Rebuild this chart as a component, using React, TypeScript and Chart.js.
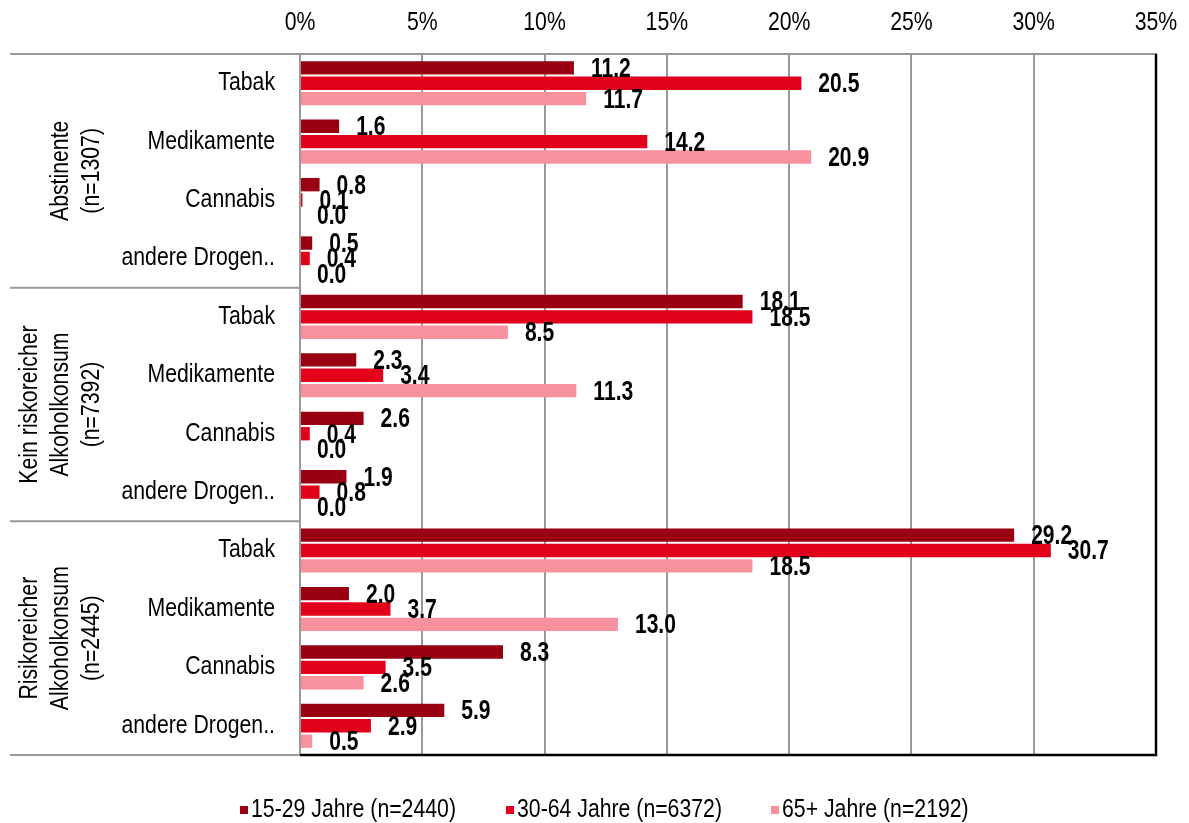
import React, { useEffect, useRef } from 'react';
import { Chart, registerables } from 'chart.js';

Chart.register(...registerables);

const groupLabels: string[][] = [
  ['Abstinente', '(n=1307)'],
  ['Kein riskoreicher', 'Alkoholkonsum', '(n=7392)'],
  ['Risikoreicher', 'Alkoholkonsum', '(n=2445)'],
];
const substances = ['Tabak', 'Medikamente', 'Cannabis', 'andere Drogen..'];
const categories = groupLabels.flatMap(() => substances);

const seriesNames = ['15-29 Jahre (n=2440)', '30-64 Jahre (n=6372)', '65+ Jahre (n=2192)'];
const age15to29 = [11.2, 1.6, 0.8, 0.5, 18.1, 2.3, 2.6, 1.9, 29.2, 2.0, 8.3, 5.9];
const age30to64 = [20.5, 14.2, 0.1, 0.4, 18.5, 3.4, 0.4, 0.8, 30.7, 3.7, 3.5, 2.9];
const age65plus = [11.7, 20.9, 0.0, 0.0, 8.5, 11.3, 0.0, 0.0, 18.5, 13.0, 2.6, 0.5];
const xTickValues = [0, 5, 10, 15, 20, 25, 30, 35];
const xTickLabels = ['0%', '5%', '10%', '15%', '20%', '25%', '30%', '35%'];
const seriesColors = ['#990011', '#E2001A', '#F7919E'];

const FONT = '"Liberation Sans", Arial, sans-serif';
const FS = 25;
const SX = 0.85;

function drawText(ctx: CanvasRenderingContext2D, text: string, x: number, y: number, align: 'left' | 'right' | 'center', bold = false, size = FS, sx = SX) {
  ctx.save();
  ctx.font = `${bold ? 'bold ' : ''}${size}px ${FONT}`;
  ctx.textAlign = align;
  ctx.textBaseline = 'middle';
  ctx.fillStyle = '#000';
  ctx.translate(x, y);
  ctx.scale(sx, 1);
  ctx.fillText(text, 0, 0);
  ctx.restore();
}

const decorPlugin = {
  id: 'decor',
  afterDraw(chart: any) {
    const ctx = chart.ctx;
    const { left, right, top, bottom } = chart.chartArea;
    const y = chart.scales.y;
    const x = chart.scales.x;
    ctx.save();
    // separators
    ctx.strokeStyle = '#999';
    ctx.lineWidth = 2;
    const seps = [top];
    for (let g = 1; g < groupLabels.length; g++) {
      const a = y.getPixelForValue(g * 4 - 1);
      const b = y.getPixelForValue(g * 4);
      seps.push((a + b) / 2);
    }
    seps.push(bottom);
    seps.forEach((sy: number) => {
      ctx.beginPath();
      ctx.moveTo(10, sy);
      ctx.lineTo(left, sy);
      ctx.stroke();
    });
    // bottom and right black border
    ctx.strokeStyle = '#000';
    ctx.lineWidth = 2.5;
    ctx.beginPath();
    ctx.moveTo(left, bottom);
    ctx.lineTo(right, bottom);
    ctx.lineTo(right, top);
    ctx.stroke();
    // x tick labels
    xTickValues.forEach((v, i) => {
      drawText(ctx, xTickLabels[i], x.getPixelForValue(v), 23.5, 'center');
    });
    // y category labels
    categories.forEach((c, i) => {
      drawText(ctx, c, left - 25, y.getPixelForValue(i), 'right');
    });
    // group labels (rotated)
    groupLabels.forEach((lines, g) => {
      const cy = (seps[g] + seps[g + 1]) / 2;
      const n = lines.length;
      lines.forEach((ln, i) => {
        const cx = 92 - (n - 1 - i) * 31;
        ctx.save();
        ctx.translate(cx, cy);
        ctx.rotate(-Math.PI / 2);
        drawText(ctx, ln, 0, 0, 'center');
        ctx.restore();
      });
    });
    // data labels
    chart.data.datasets.forEach((ds: any, di: number) => {
      const meta = chart.getDatasetMeta(di);
      meta.data.forEach((el: any, i: number) => {
        const v = ds.data[i];
        drawText(ctx, v.toFixed(1), el.x + 17, el.y + 1.5, 'left', true, 27, 0.78);
      });
    });
    // legend
    const legendX = [240, 506, 771];
    const ly = 810;
    chart.data.datasets.forEach((ds: any, di: number) => {
      ctx.fillStyle = ds.backgroundColor;
      ctx.fillRect(legendX[di], ly - 4, 8, 8);
      drawText(ctx, ds.label, legendX[di] + 11, ly, 'left');
    });
    ctx.restore();
  },
};

export default function App() {
  const ref = useRef<HTMLCanvasElement>(null);
  useEffect(() => {
    if (!ref.current) return;
    const seriesData = [age15to29, age30to64, age65plus];
    const chart = new Chart(ref.current, {
      type: 'bar',
      data: {
        labels: categories,
        datasets: seriesNames.map((name, i) => ({
          label: name,
          data: seriesData[i],
          backgroundColor: seriesColors[i],
          barPercentage: 0.87,
          categoryPercentage: 0.79,
        })),
      },
      options: {
        indexAxis: 'y',
        responsive: false,
        animation: false,
        layout: { padding: { left: 0, right: 33, top: 0, bottom: 68 } },
        scales: {
          x: {
            position: 'top',
            min: 0,
            max: 35,
            afterBuildTicks: (s: any) => {
              s.ticks = xTickValues.map((v) => ({ value: v }));
            },
            afterFit: (s: any) => {
              s.height = 54;
              s.paddingLeft = 0;
              s.paddingRight = 0;
            },
            ticks: { display: false },
            grid: { color: '#999', lineWidth: 2, drawTicks: false },
            border: { display: true, color: '#999', width: 2 },
          },
          y: {
            afterFit: (s: any) => {
              s.width = 300;
              s.paddingTop = 0;
              s.paddingBottom = 0;
            },
            ticks: { display: false },
            grid: { display: false },
            border: { display: true, color: '#999', width: 2 },
          },
        },
        plugins: { legend: { display: false }, tooltip: { enabled: false } },
      },
      plugins: [decorPlugin],
    } as any);
    return () => chart.destroy();
  }, []);
  return (
    <div style={{ position: 'absolute', left: 0, top: 0, width: 1189, height: 823, background: '#fff' }}>
      <canvas ref={ref} width={1189} height={823} />
    </div>
  );
}
